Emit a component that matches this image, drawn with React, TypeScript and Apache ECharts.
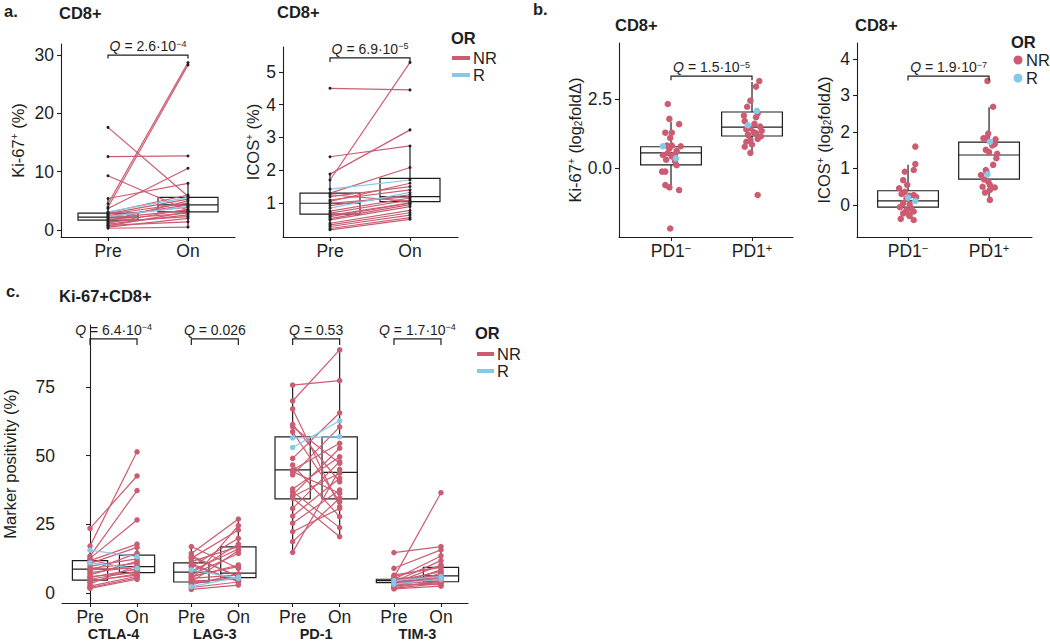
import { useEffect, useRef } from 'react';
import * as echarts from 'echarts';

const RED = '#CB5C72';
const BLUE = '#84C8EA';
const INK = '#1e1e1e';
const FONT = '"Liberation Sans", Arial, Helvetica, sans-serif';

// ---------- panel a (paired Pre / On, CD8+) ----------
const TIMEPOINTS = ['Pre', 'On'];
const A_OR = ['NR','NR','NR','NR','NR','NR','NR','NR','NR','NR','NR','NR','NR','NR','NR','NR','NR','NR','NR','NR','NR','NR','R','R'];
const KI67_PRE = [17.6, 12.6, 9.3, 5.4, 4.5, 3.9, 3.7, 3.0, 2.8, 2.7, 2.5, 2.2, 2.0, 1.8, 1.6, 1.4, 1.2, 1.0, 0.8, 0.7, 0.5, 0.3, 3.1, 2.3];
const KI67_ON = [5.8, 12.7, 3.4, 8.0, 28.7, 28.3, 10.6, 6.0, 5.3, 4.6, 3.9, 4.3, 3.4, 2.9, 5.0, 2.3, 3.6, 2.6, 1.4, 3.1, 2.0, 0.5, 5.6, 4.0];
const KI67_BOX_PRE = [0.3, 1.7, 2.2, 2.9, 5.4];
const KI67_BOX_ON = [0.5, 3.1, 4.3, 5.6, 8.0];
const ICOS_PRE = [4.5, 2.41, 1.88, 1.70, 1.30, 1.19, 1.09, 0.99, 0.69, 0.58, 0.48, 0.38, 0.28, 0.18, 1.25, 1.05, 0.92, 0.75, 0.62, 0.52, 0.33, 0.22, 1.42, 0.84];
const ICOS_ON = [4.45, 2.74, 3.23, 5.29, 2.08, 1.5, 1.40, 1.19, 1.09, 0.99, 0.89, 0.77, 0.63, 0.50, 1.05, 1.6, 1.25, 1.15, 1.0, 0.95, 0.70, 0.55, 1.70, 1.32];
const ICOS_BOX_PRE = [0.18, 0.66, 0.99, 1.30, 1.88];
const ICOS_BOX_ON = [0.5, 1.04, 1.19, 1.75, 2.74];
const A_Q = ['2.6·10{e|−4}', '6.9·10{e|−5}'];
const KI67_TICKS = [0, 10, 20, 30];
const ICOS_TICKS = [1, 2, 3, 4, 5];

// ---------- panel b (log2 fold change by PD1 status) ----------
const PD1_GROUPS = ['PD1{s|−}', 'PD1{s|+}'];
const B_KI67_NEG = [2.32, 1.78, 1.59, 1.28, 1.28, 1.09, 0.81, 0.81, 0.79, 0.70, 0.62, 0.54, 0.50, 0.47, 0.42, 0.30, 0.25, 0.10, -0.13, -0.13, -0.62, -0.70, -0.80, -2.19, 0.79, 0.35];
const B_KI67_NEG_JIT = [-0.04, -0.02, 0.10, -0.07, 0.01, -0.01, -0.05, 0.01, 0.12, -0.02, 0.07, -0.04, 0.05, -0.10, 0.01, -0.06, 0.05, 0.07, -0.11, -0.07, -0.07, -0.02, 0.10, -0.01, -0.10, 0.06];
const B_KI67_POS = [3.15, 2.95, 2.44, 2.22, 1.98, 1.84, 1.70, 1.50, 1.44, 1.40, 1.30, 1.26, 1.20, 1.15, 1.05, 1.01, 0.95, 0.77, 0.55, -0.98, 1.90, 1.35, 0.85, 1.60, 2.07, 1.55];
const B_KI67_POS_JIT = [0.09, 0.05, -0.02, -0.06, 0.07, 0.05, -0.09, 0.10, -0.02, -0.07, 0.02, 0.05, -0.05, 0.11, 0.07, -0.02, -0.07, -0.09, -0.02, 0.07, -0.10, 0.12, 0.00, 0.03, 0.06, -0.05];
const B_ICOS_NEG = [1.60, 1.12, 0.96, 0.91, 0.68, 0.55, 0.46, 0.36, 0.27, 0.25, 0.22, 0.18, 0.05, 0.02, -0.06, -0.10, -0.14, -0.18, -0.23, -0.27, -0.30, -0.38, -0.41, 0.30, 0.11, 0.20];
const B_ICOS_NEG_JIT = [0.09, 0.09, 0.07, -0.04, -0.06, -0.01, -0.11, -0.04, 0.07, 0.02, 0.10, -0.02, -0.06, 0.02, -0.10, 0.04, -0.02, 0.07, -0.06, 0.01, 0.02, -0.09, 0.07, -0.08, 0.09, 0.00];
const B_ICOS_POS = [3.40, 2.69, 1.96, 1.83, 1.83, 1.67, 1.63, 1.51, 1.45, 1.28, 0.96, 0.82, 0.64, 0.55, 0.48, 0.41, 0.34, 0.14, 1.10, 0.70, 1.80, 0.50, 1.40, 0.90, 1.73, 0.84];
const B_ICOS_POS_JIT = [-0.02, 0.05, -0.01, -0.07, -0.04, 0.07, 0.04, -0.04, 0.00, 0.09, -0.04, -0.10, -0.01, 0.01, 0.07, 0.01, -0.05, 0.01, 0.05, -0.06, 0.08, -0.08, 0.10, -0.03, 0.01, -0.02];
const B_OR = ['NR','NR','NR','NR','NR','NR','NR','NR','NR','NR','NR','NR','NR','NR','NR','NR','NR','NR','NR','NR','NR','NR','NR','NR','R','R'];
const B_KI67_BOX_NEG = [-0.80, 0.11, 0.55, 0.77, 1.67];
const B_KI67_BOX_POS = [0.55, 1.16, 1.48, 2.03, 3.12];
const B_ICOS_BOX_NEG = [-0.36, -0.06, 0.11, 0.39, 1.10];
const B_ICOS_BOX_POS = [0.14, 0.71, 1.37, 1.72, 2.68];
const B_Q = ['1.5·10{e|−5}', '1.9·10{e|−7}'];
const B_KI67_TICKS = [0, 2.5];
const B_ICOS_TICKS = [0, 1, 2, 3, 4];

// ---------- panel c (Ki-67+CD8+ markers, paired) ----------
const MARKERS = ['CTLA-4', 'LAG-3', 'PD-1', 'TIM-3'];
const C_OR = ['NR','NR','NR','NR','NR','NR','NR','NR','NR','NR','NR','NR','NR','NR','NR','NR','NR','NR','NR','NR','NR','NR','R','R'];
const CTLA4_PRE = [23.5, 17.1, 13.4, 12.6, 11.8, 10.8, 9.8, 9.0, 8.1, 7.4, 6.6, 5.7, 5.0, 4.1, 3.3, 2.5, 1.7, 12.0, 8.5, 6.0, 4.5, 2.0, 15.6, 11.0];
const CTLA4_ON = [42.6, 51.4, 37.3, 26.6, 17.8, 16.6, 12.4, 10.8, 14.5, 9.6, 11.5, 8.7, 7.9, 7.0, 10.0, 6.1, 5.0, 8.2, 9.3, 7.4, 6.5, 5.5, 13.2, 9.0];
const LAG3_PRE = [16.9, 14.4, 13.5, 12.6, 11.4, 10.6, 9.6, 7.2, 6.6, 5.9, 5.3, 4.7, 4.1, 3.5, 1.3, 13.0, 10.0, 8.0, 6.2, 4.4, 3.0, 2.0, 8.4, 2.3];
const LAG3_ON = [9.0, 26.9, 5.9, 22.9, 16.9, 4.1, 19.9, 17.8, 14.4, 10.2, 6.6, 24.5, 15.5, 5.9, 2.9, 6.2, 4.6, 16.0, 9.6, 5.0, 7.0, 4.0, 5.3, 5.8];
const PD1_PRE = [75.7, 69.9, 67.0, 61.4, 60.5, 58.7, 49.0, 46.6, 44.8, 44.2, 43.0, 37.9, 36.9, 35.7, 35.1, 34.5, 30.8, 28.0, 25.4, 22.3, 18.7, 14.8, 56.5, 53.0];
const PD1_ON = [77.3, 88.5, 31.4, 40.5, 47.2, 33.2, 65.6, 27.8, 54.5, 36.3, 60.5, 49.6, 23.8, 52.7, 43.6, 20.5, 47.8, 41.8, 37.5, 30.8, 34.5, 45.0, 56.9, 62.7];
const TIM3_PRE = [14.7, 9.0, 5.7, 5.0, 4.1, 3.5, 2.9, 2.3, 1.7, 6.5, 5.3, 4.7, 4.3, 3.9, 3.7, 3.0, 2.6, 2.0, 1.5, 6.0, 4.9, 3.3, 4.5, 3.2];
const TIM3_ON = [16.9, 15.7, 36.5, 13.5, 11.8, 10.2, 8.4, 7.2, 3.5, 9.3, 5.9, 4.7, 7.8, 5.2, 4.0, 6.5, 3.8, 4.4, 2.5, 9.8, 5.5, 3.0, 6.0, 5.0];
const C_BOX_PRE = [[1.7, 4.7, 8.7, 11.8, 17.1], [1.3, 4.0, 7.6, 11.0, 16.9], [14.8, 34.3, 44.8, 56.8, 75.7], [1.5, 3.8, 4.5, 5.0, 6.5]];
const C_BOX_ON = [[5.0, 7.4, 9.6, 13.8, 17.8], [2.9, 5.6, 7.2, 16.8, 26.9], [20.5, 34.3, 43.9, 56.8, 88.5], [2.5, 4.1, 6.2, 9.3, 16.9]];
const C_Q = ['6.4·10{e|−4}', '0.026', '0.53', '1.7·10{e|−4}'];
const C_TICKS = [0, 25, 50, 75];

// layout constants
const GROUP_GAP = 2.155;
const BOX_W = 0.75;
const C_BOX_W = 0.75;
const C_YMIN = -3.64;
const TICK_FS = 17.5;
const NAME_FS = 16.5;
const TITLE_FS = 16.5;
const LEG_FS = 16.5;

const Q_RICH = {
  q: { fontStyle: 'italic', fontSize: 14, fontFamily: FONT, fill: INK },
  e: { fontSize: 9, fontFamily: FONT, fill: INK, verticalAlign: 'top' },
};
const NAME_RICH = {
  s: { fontSize: 10, fontFamily: FONT, color: INK, verticalAlign: 'top' },
  b: { fontSize: 10, fontFamily: FONT, color: INK, verticalAlign: 'bottom' },
};
const LABEL_RICH = {
  s: { fontSize: 11, fontFamily: FONT, color: INK, verticalAlign: 'top' },
};

const lineStyleAx = { color: INK, width: 1.1 };

function nearest(arr: number[], v: number) {
  let bi = 0;
  for (let i = 1; i < arr.length; i++) if (Math.abs(arr[i] - v) < Math.abs(arr[bi] - v)) bi = i;
  return bi;
}

function yAx(gi: number, min: number, max: number, ticks: number[], fmt: (v: number) => string, name: string, nameGap: number) {
  return {
    type: 'value', gridIndex: gi, min, max,
    axisLine: { show: true, lineStyle: lineStyleAx },
    axisTick: { show: true, length: 4, lineStyle: lineStyleAx, customValues: ticks },
    axisLabel: { customValues: ticks, formatter: fmt, fontSize: TICK_FS, color: INK, fontFamily: FONT, margin: 7 },
    splitLine: { show: false },
    name, nameLocation: 'middle', nameGap,
    nameTextStyle: { fontSize: NAME_FS, color: INK, fontFamily: FONT, rich: NAME_RICH },
  };
}

function xAx(gi: number, min: number, max: number, ticks: number[], labels: string[]) {
  return {
    type: 'value', gridIndex: gi, min, max,
    axisLine: { show: true, onZero: false, lineStyle: lineStyleAx },
    axisTick: { show: true, length: 4, lineStyle: lineStyleAx, customValues: ticks },
    axisLabel: {
      customValues: ticks, formatter: (v: number) => labels[nearest(ticks, v)],
      fontSize: TICK_FS, color: INK, fontFamily: FONT, margin: 5, rich: LABEL_RICH,
    },
    splitLine: { show: false },
  };
}

const segRender = (lw: number) => (_p: any, api: any) => {
  const a = api.coord([api.value(0), api.value(1)]);
  const b = api.coord([api.value(2), api.value(3)]);
  return {
    type: 'line',
    shape: { x1: a[0], y1: a[1], x2: b[0], y2: b[1] },
    style: { stroke: api.value(4) === 1 ? BLUE : RED, lineWidth: lw },
  };
};

const boxRender = (w: number) => (_p: any, api: any) => {
  const x = api.value(0);
  const pts = [1, 2, 3, 4, 5].map((i) => api.coord([x, api.value(i)]));
  const cx = pts[0][0];
  const half = api.size([w, 0])[0] / 2;
  const st = { stroke: INK, lineWidth: 1.2, fill: 'none' };
  return {
    type: 'group',
    children: [
      { type: 'line', shape: { x1: cx, y1: pts[0][1], x2: cx, y2: pts[1][1] }, style: st },
      { type: 'line', shape: { x1: cx, y1: pts[3][1], x2: cx, y2: pts[4][1] }, style: st },
      { type: 'rect', shape: { x: cx - half, y: pts[3][1], width: 2 * half, height: pts[1][1] - pts[3][1] }, style: st },
      { type: 'line', shape: { x1: cx - half, y1: pts[2][1], x2: cx + half, y2: pts[2][1] }, style: st },
    ],
  };
};

const bracketRender = (labels: string[]) => (p: any, api: any) => {
  const l = api.coord([api.value(0), api.value(2)]);
  const r = api.coord([api.value(1), api.value(2)]);
  const tipY = api.coord([api.value(0), api.value(3)])[1];
  return {
    type: 'group',
    children: [
      { type: 'polyline', shape: { points: [[l[0], tipY], [l[0], l[1]], [r[0], r[1]], [r[0], tipY]] }, style: { stroke: INK, lineWidth: 1.2, fill: 'none' } },
      {
        type: 'text', x: (l[0] + r[0]) / 2, y: l[1] - 2,
        style: { text: '{q|Q} = ' + labels[p.dataIndex], rich: Q_RICH, fontSize: 14, fontFamily: FONT, fill: INK, align: 'center', verticalAlign: 'bottom' },
      },
    ],
  };
};

const groupLabelRender = (p: any, api: any) => {
  const pt = api.coord([api.value(0), api.value(1)]);
  return {
    type: 'text', x: pt[0], y: pt[1] + 31,
    style: { text: MARKERS[p.dataIndex], fontSize: 14.5, fontWeight: 'bold', fontFamily: FONT, fill: INK, align: 'center', verticalAlign: 'middle' },
  };
};

function custom(gi: number, render: any, data: any[], z: number) {
  return { type: 'custom', xAxisIndex: gi, yAxisIndex: gi, renderItem: render, data, z, silent: true, clip: false };
}

function pairedSeries(gi: number, facets: { x0: number; pre: number[]; on: number[] }[], or: string[], lw: number, dotSize: number, dotsByGroup: boolean) {
  const segs: any[] = [];
  const nr: number[][] = [];
  const rr: number[][] = [];
  facets.forEach((f) => {
    f.pre.forEach((v, i) => {
      const isR = or[i] === 'R';
      segs.push([f.x0, v, f.x0 + 1, f.on[i], isR ? 1 : 0]);
      const tgt = isR && dotsByGroup ? rr : nr;
      tgt.push([f.x0, v]);
      tgt.push([f.x0 + 1, f.on[i]]);
    });
  });
  const out: any[] = [custom(gi, segRender(lw), segs, 2)];
  out.push({
    type: 'scatter', name: 'NR', xAxisIndex: gi, yAxisIndex: gi, data: nr, symbolSize: dotSize, silent: true, z: 3,
    itemStyle: { color: dotsByGroup ? RED : '#222', opacity: 1 },
  });
  if (dotsByGroup) {
    out.push({
      type: 'scatter', name: 'R', xAxisIndex: gi, yAxisIndex: gi, data: rr, symbolSize: dotSize, silent: true, z: 3,
      itemStyle: { color: BLUE, opacity: 1 },
    });
  }
  return out;
}

function jitterSeries(gi: number, cats: { x: number; vals: number[]; jit: number[] }[], or: string[]) {
  const nr: number[][] = [];
  const rr: number[][] = [];
  cats.forEach((c) => c.vals.forEach((v, i) => (or[i] === 'R' ? rr : nr).push([c.x + c.jit[i], v])));
  return [
    { type: 'scatter', name: 'NR', xAxisIndex: gi, yAxisIndex: gi, data: nr, symbolSize: 6.5, silent: true, z: 3, itemStyle: { color: RED, opacity: 1 } },
    { type: 'scatter', name: 'R', xAxisIndex: gi, yAxisIndex: gi, data: rr, symbolSize: 6.5, silent: true, z: 3, itemStyle: { color: BLUE, opacity: 1 } },
  ];
}

function txt(text: string, x: number, y: number, size: number, bold = false, align = 'left') {
  return {
    type: 'text', x, y, silent: true,
    style: { text, fontSize: size, fontWeight: bold ? 'bold' : 'normal', fontFamily: FONT, fill: INK, align, verticalAlign: 'middle' },
  };
}

function buildOption() {
  const cPre = [CTLA4_PRE, LAG3_PRE, PD1_PRE, TIM3_PRE];
  const cOn = [CTLA4_ON, LAG3_ON, PD1_ON, TIM3_ON];
  const cTicks: number[] = [];
  const cLabels: string[] = [];
  MARKERS.forEach((_m, g) => {
    cTicks.push(g * GROUP_GAP, g * GROUP_GAP + 1);
    cLabels.push(TIMEPOINTS[0], TIMEPOINTS[1]);
  });

  const series: any[] = [
    // panel a Ki-67
    custom(0, boxRender(BOX_W), [[1, ...KI67_BOX_PRE], [2, ...KI67_BOX_ON]], 1),
    ...pairedSeries(0, [{ x0: 1, pre: KI67_PRE, on: KI67_ON }], A_OR, 1.2, 3, false),
    custom(0, bracketRender([A_Q[0]]), [[1, 2, 30.0, 29.4]], 4),
    // panel a ICOS
    custom(1, boxRender(BOX_W), [[1, ...ICOS_BOX_PRE], [2, ...ICOS_BOX_ON]], 1),
    ...pairedSeries(1, [{ x0: 1, pre: ICOS_PRE, on: ICOS_ON }], A_OR, 1.2, 3, false),
    custom(1, bracketRender([A_Q[1]]), [[1, 2, 5.43, 5.3]], 4),
    // panel b Ki-67
    custom(2, boxRender(BOX_W), [[1, ...B_KI67_BOX_NEG], [2, ...B_KI67_BOX_POS]], 1),
    ...jitterSeries(2, [{ x: 1, vals: B_KI67_NEG, jit: B_KI67_NEG_JIT }, { x: 2, vals: B_KI67_POS, jit: B_KI67_POS_JIT }], B_OR),
    custom(2, bracketRender([B_Q[0]]), [[1, 2, 3.33, 3.18]], 4),
    // panel b ICOS
    custom(3, boxRender(BOX_W), [[1, ...B_ICOS_BOX_NEG], [2, ...B_ICOS_BOX_POS]], 1),
    ...jitterSeries(3, [{ x: 1, vals: B_ICOS_NEG, jit: B_ICOS_NEG_JIT }, { x: 2, vals: B_ICOS_POS, jit: B_ICOS_POS_JIT }], B_OR),
    custom(3, bracketRender([B_Q[1]]), [[1, 2, 3.53, 3.41]], 4),
    // panel c
    custom(4, boxRender(C_BOX_W), MARKERS.flatMap((_m, g) => [[g * GROUP_GAP, ...C_BOX_PRE[g]], [g * GROUP_GAP + 1, ...C_BOX_ON[g]]]), 1),
    ...pairedSeries(4, MARKERS.map((_m, g) => ({ x0: g * GROUP_GAP, pre: cPre[g], on: cOn[g] })), C_OR, 1.2, 5.5, true),
    custom(4, bracketRender(C_Q), MARKERS.map((_m, g) => [g * GROUP_GAP, g * GROUP_GAP + 1, 92.5, 90.3]), 4),
    custom(4, groupLabelRender, MARKERS.map((_m, g) => [g * GROUP_GAP + 0.5, C_YMIN]), 4),
  ];

  const graphic = [
    txt('a.', 4, 11, TITLE_FS, true),
    txt('CD8+', 59, 13, TITLE_FS, true),
    txt('CD8+', 277, 12, TITLE_FS, true),
    txt('b.', 533, 9, TITLE_FS, true),
    txt('CD8+', 615, 25, TITLE_FS, true),
    txt('CD8+', 855, 25, TITLE_FS, true),
    txt('c.', 6, 291, TITLE_FS, true),
    txt('Ki-67+CD8+', 59, 296, TITLE_FS, true),
    // legend a
    txt('OR', 451, 38, LEG_FS, true),
    { type: 'rect', shape: { x: 452, y: 56, width: 18, height: 4 }, style: { fill: RED } },
    txt('NR', 473, 58, LEG_FS),
    { type: 'rect', shape: { x: 452, y: 73, width: 18, height: 4 }, style: { fill: BLUE } },
    txt('R', 473, 75, LEG_FS),
    // legend b
    txt('OR', 1011, 42, LEG_FS, true),
    { type: 'circle', shape: { cx: 1018, cy: 60, r: 4.5 }, style: { fill: RED } },
    txt('NR', 1026, 60, LEG_FS),
    { type: 'circle', shape: { cx: 1018, cy: 78, r: 4.5 }, style: { fill: BLUE } },
    txt('R', 1026, 78, LEG_FS),
    // legend c
    txt('OR', 475, 333, LEG_FS, true),
    { type: 'rect', shape: { x: 477, y: 352, width: 17, height: 4 }, style: { fill: RED } },
    txt('NR', 497, 354, LEG_FS),
    { type: 'rect', shape: { x: 477, y: 369, width: 17, height: 4 }, style: { fill: BLUE } },
    txt('R', 497, 371, LEG_FS),
  ];

  return {
    animation: false,
    backgroundColor: '#fff',
    textStyle: { fontFamily: FONT },
    grid: [
      { left: 61, top: 44, width: 174, height: 193 },
      { left: 283, top: 47, width: 175, height: 190 },
      { left: 619, top: 43, width: 174, height: 194 },
      { left: 857, top: 43, width: 175, height: 194 },
      { left: 62, top: 325, width: 406, height: 278 },
    ],
    xAxis: [
      xAx(0, 0.4125, 2.5875, [1, 2], TIMEPOINTS),
      xAx(1, 0.4125, 2.6, [1, 2], TIMEPOINTS),
      xAx(2, 0.358, 2.506, [1, 2], PD1_GROUPS),
      xAx(3, 0.37, 2.53, [1, 2], PD1_GROUPS),
      xAx(4, -0.596, 8.04, cTicks, cLabels),
    ],
    yAxis: [
      yAx(0, -1.2, 31.9, KI67_TICKS, (v) => String(v), 'Ki-67{s|+} (%)', 35),
      yAx(1, -0.04, 5.76, ICOS_TICKS, (v) => String(v), 'ICOS{s|+} (%)', 22),
      yAx(2, -2.5, 4.53, B_KI67_TICKS, (v) => v.toFixed(1), 'Ki-67{s|+} (log{b|2}foldΔ)', 36),
      yAx(3, -0.877, 4.438, B_ICOS_TICKS, (v) => String(v), 'ICOS{s|+} (log{b|2}foldΔ)', 25),
      yAx(4, C_YMIN, 97.56, C_TICKS, (v) => String(v), 'Marker positivity (%)', 44),
    ],
    series,
    graphic,
  };
}

export default function App() {
  const ref = useRef<HTMLDivElement>(null);
  useEffect(() => {
    const chart = echarts.init(ref.current as HTMLDivElement, null, { renderer: 'svg' });
    chart.setOption(buildOption() as any);
    return () => chart.dispose();
  }, []);
  return <div ref={ref} style={{ position: 'fixed', left: 0, top: 0, width: 1050, height: 643, background: '#fff' }} />;
}
